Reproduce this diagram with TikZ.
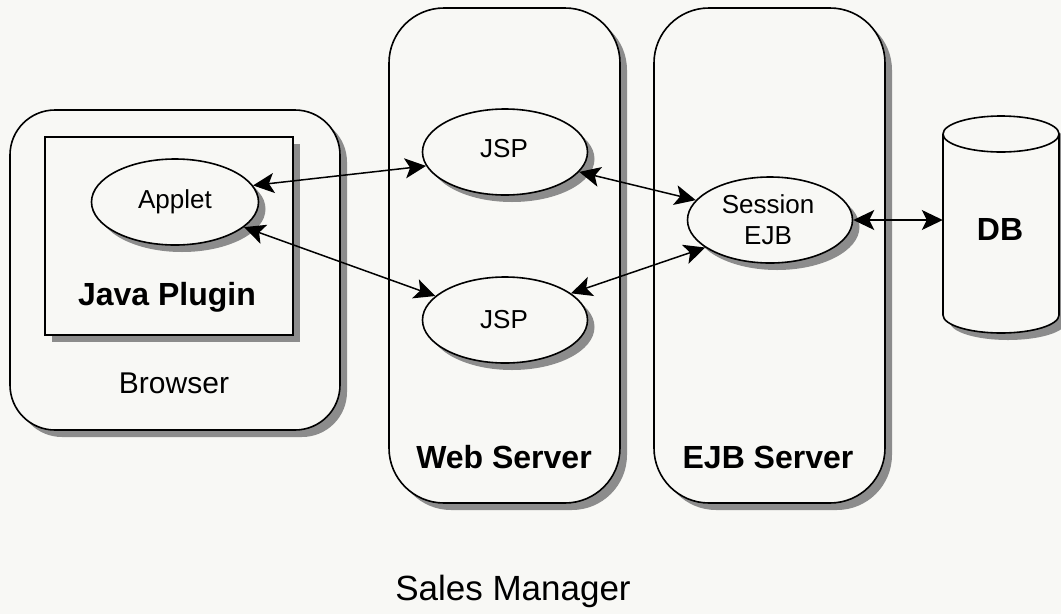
\documentclass[tikz,border=0pt]{standalone}
\usepackage{fontspec}
\setmainfont{Liberation Sans}
\usetikzlibrary{shapes.geometric,shadows,arrows.meta}
\definecolor{paper}{RGB}{248,248,245}
\definecolor{shade}{RGB}{140,140,140}
\tikzset{
  headtip/.tip={Stealth[length=21pt,width=20pt,inset=5pt]},
}
\begin{document}
\begin{tikzpicture}[x=1pt,y=-1pt,
  outline/.style={draw=black, line width=1.6pt, fill=paper},
  shad/.style={drop shadow={shadow xshift=7pt, shadow yshift=-7pt, fill=shade, opacity=1}},
  tier/.style={outline, shad, rectangle, inner sep=0pt},
  comp/.style={outline, shad, ellipse, inner sep=0pt, minimum width=165pt, minimum height=86pt},
  link/.style={line width=1.5pt, arrows={headtip-headtip}},
  txt/.style={anchor=base, inner sep=0pt},
  small/.style={txt, font=\fontsize{26pt}{30pt}\selectfont},
  big/.style={txt, font=\fontsize{32pt}{36pt}\selectfont\bfseries},
]
% page
\fill[paper] (0,0) rectangle (1061,614);
\useasboundingbox (0,0) rectangle (1061,614);

% browser tier
\node[tier, rounded corners=45pt, minimum width=330pt, minimum height=320pt] (browser) at (175,270) {};
\node[tier, minimum width=248pt, minimum height=198pt] (plugin) at (169,236) {};
\node[comp, minimum width=167pt] (applet) at (175,202) {};
\node[small] (applettxt) at (175,208) {Applet};
\node[big] (plugintxt) at (167,305) {Java Plugin};
\node[txt, font=\fontsize{30pt}{34pt}\selectfont] (browsertxt) at (174,393) {Browser};

% web tier
\node[tier, rounded corners=55pt, minimum width=231pt, minimum height=495pt] (web) at (504.5,255.5) {};
\node[comp] (jsp1) at (505,152) {};
\node[small] (jsp1txt) at (504,157) {JSP};
\node[comp] (jsp2) at (505,320) {};
\node[small] (jsp2txt) at (504,328) {JSP};
\node[big] (webtxt) at (504,468) {Web Server};

% ejb tier
\node[tier, rounded corners=55pt, minimum width=231pt, minimum height=495pt] (ejb) at (769.5,255.5) {};
\node[comp] (sess) at (770,220) {};
\node[small] (sesstxt) at (768,213) {Session};
\node[small] (ejbtxt) at (768,244) {EJB};
\node[big] (ejbsrvtxt) at (768,468) {EJB Server};

% database
\path[outline, shad] (943,134) -- (943,315)
  arc[start angle=180, end angle=360, x radius=58pt, y radius=18pt]
  -- (1059,134)
  arc[start angle=0, end angle=180, x radius=58pt, y radius=18pt] -- cycle;
\draw[line width=1.6pt] (943,134) arc[start angle=180, end angle=360, x radius=58pt, y radius=18pt];
\node[inner sep=0pt, minimum width=116pt, minimum height=217pt] (db) at (1001,224.5) {};
\node[big] (dbtxt) at (1000,240) {DB};

% connectors
\draw[link] (applet.12) -- (jsp1.190);
\draw[link] (applet.-20) -- (jsp2.161);
\draw[link] (jsp1.-15) -- (sess.165);
\draw[link] (jsp2.22) -- (sess.203);
\draw[link] (sess.east) -- (sess.east -| db.west);

% caption
\node[txt, font=\fontsize{35pt}{40pt}\selectfont] (caption) at (513,600) {Sales Manager};
\end{tikzpicture}
\end{document}
